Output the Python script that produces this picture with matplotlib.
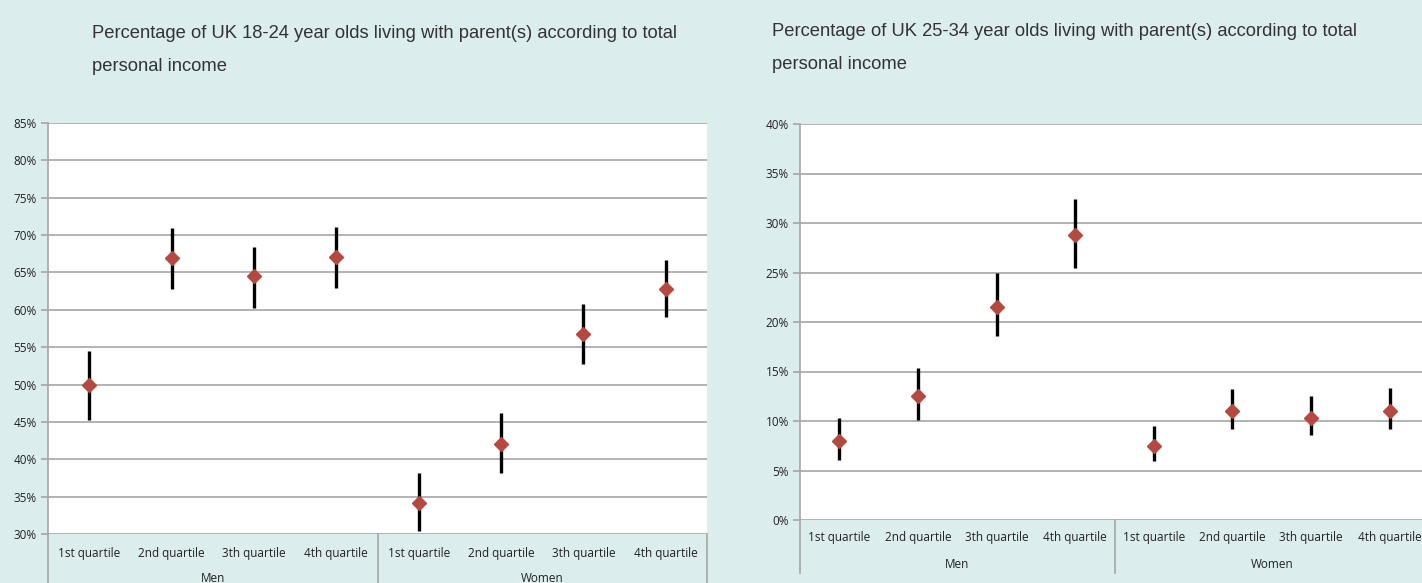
import matplotlib
matplotlib.use("Agg")
import matplotlib.pyplot as plt
import numpy as np

categories = ["1st quartile", "2nd quartile", "3th quartile", "4th quartile"]
groups = ["Men", "Women"]

title_left = "Percentage of UK 18-24 year olds living with parent(s) according to total\npersonal income"
title_right = "Percentage of UK 25-34 year olds living with parent(s) according to total\npersonal income"

# 18-24 (men 1-4, women 1-4), percent
young_mid = [50.0, 67.0, 64.5, 67.1, 34.2, 42.1, 56.7, 62.8]
young_lo = [45.2, 62.8, 60.2, 62.9, 30.4, 38.1, 52.7, 59.0]
young_hi = [54.5, 71.0, 68.4, 71.1, 38.2, 46.2, 60.8, 66.6]

# 25-34
old_mid = [8.0, 12.5, 21.5, 28.8, 7.5, 11.0, 10.3, 11.0]
old_lo = [6.1, 10.1, 18.6, 25.5, 6.0, 9.2, 8.6, 9.2]
old_hi = [10.3, 15.4, 24.9, 32.4, 9.5, 13.2, 12.5, 13.3]

BG = "#DCEDED"
GRID = "#A6A6A6"
MARK = "#B7483F"
W, H = 1422, 583

fig = plt.figure(figsize=(W / 100, H / 100), dpi=100, facecolor=BG)


def make_axes(l, t, r, b):
    return fig.add_axes([l / W, (H - b) / H, (r - l) / W, (b - t) / H])


def draw(ax, mid, lo, hi, ymin, ymax, lab_off, grp_off, sep_len):
    n = len(mid)
    x = np.arange(n)
    mid = np.array(mid); lo = np.array(lo); hi = np.array(hi)
    ax.set_facecolor("white")
    ax.vlines(x, lo, hi, color="black", lw=2.4, zorder=3)
    ax.plot(x, mid, linestyle="none", marker="D", ms=7.5, color=MARK,
            markeredgecolor=MARK, zorder=4)
    ax.set_xlim(-0.5, n - 0.5)
    ax.set_ylim(ymin, ymax)
    ticks = np.arange(ymin, ymax + 0.1, 5)
    ax.set_yticks(ticks)
    ax.set_yticklabels([f"{int(t)}%" for t in ticks], fontsize=8.5,
                       family="Open Sans", color="#222222")
    ax.yaxis.grid(True, color=GRID, lw=1.2)
    ax.set_axisbelow(True)
    for s in ["top", "right", "bottom"]:
        ax.spines[s].set_visible(False)
    ax.spines["left"].set_color(GRID)
    ax.spines["left"].set_linewidth(1.2)
    ax.tick_params(axis="y", length=5, width=1.2, color=GRID, pad=3)
    ax.set_xticks([])
    trans = ax.get_xaxis_transform()
    labels = categories * len(groups)
    for xi, lb in zip(x, labels):
        ax.text(xi, -lab_off, lb, transform=trans, ha="center", va="center",
                fontsize=8.5, family="Open Sans", color="#222222", clip_on=False)
    per = len(categories)
    for gi, g in enumerate(groups):
        cx = gi * per + (per - 1) / 2
        ax.text(cx, -grp_off, g, transform=trans, ha="center", va="center",
                fontsize=8.5, family="Open Sans", color="#222222", clip_on=False)
    for sx in [-0.5 + k * per for k in range(len(groups) + 1)]:
        ax.plot([sx, sx], [0, -sep_len], transform=trans, color=GRID, lw=1.2,
                clip_on=False)


ax1 = make_axes(48, 123, 707, 534)
draw(ax1, young_mid, young_lo, young_hi, 30, 85,
     lab_off=19 / 411, grp_off=45 / 411, sep_len=60 / 411)
ax2 = make_axes(800, 124, 1429, 520)
draw(ax2, old_mid, old_lo, old_hi, 0, 40,
     lab_off=18 / 396, grp_off=44 / 396, sep_len=53 / 396)

fig.text(92 / W, 1 - 25 / H, title_left, ha="left", va="top", fontsize=13.2,
         family="Liberation Sans", color="#333333", linespacing=2.2)
fig.text(772 / W, 1 - 23 / H, title_right, ha="left", va="top", fontsize=13.2,
         family="Liberation Sans", color="#333333", linespacing=2.2)

fig.savefig("out.png", dpi=100, facecolor=BG)
